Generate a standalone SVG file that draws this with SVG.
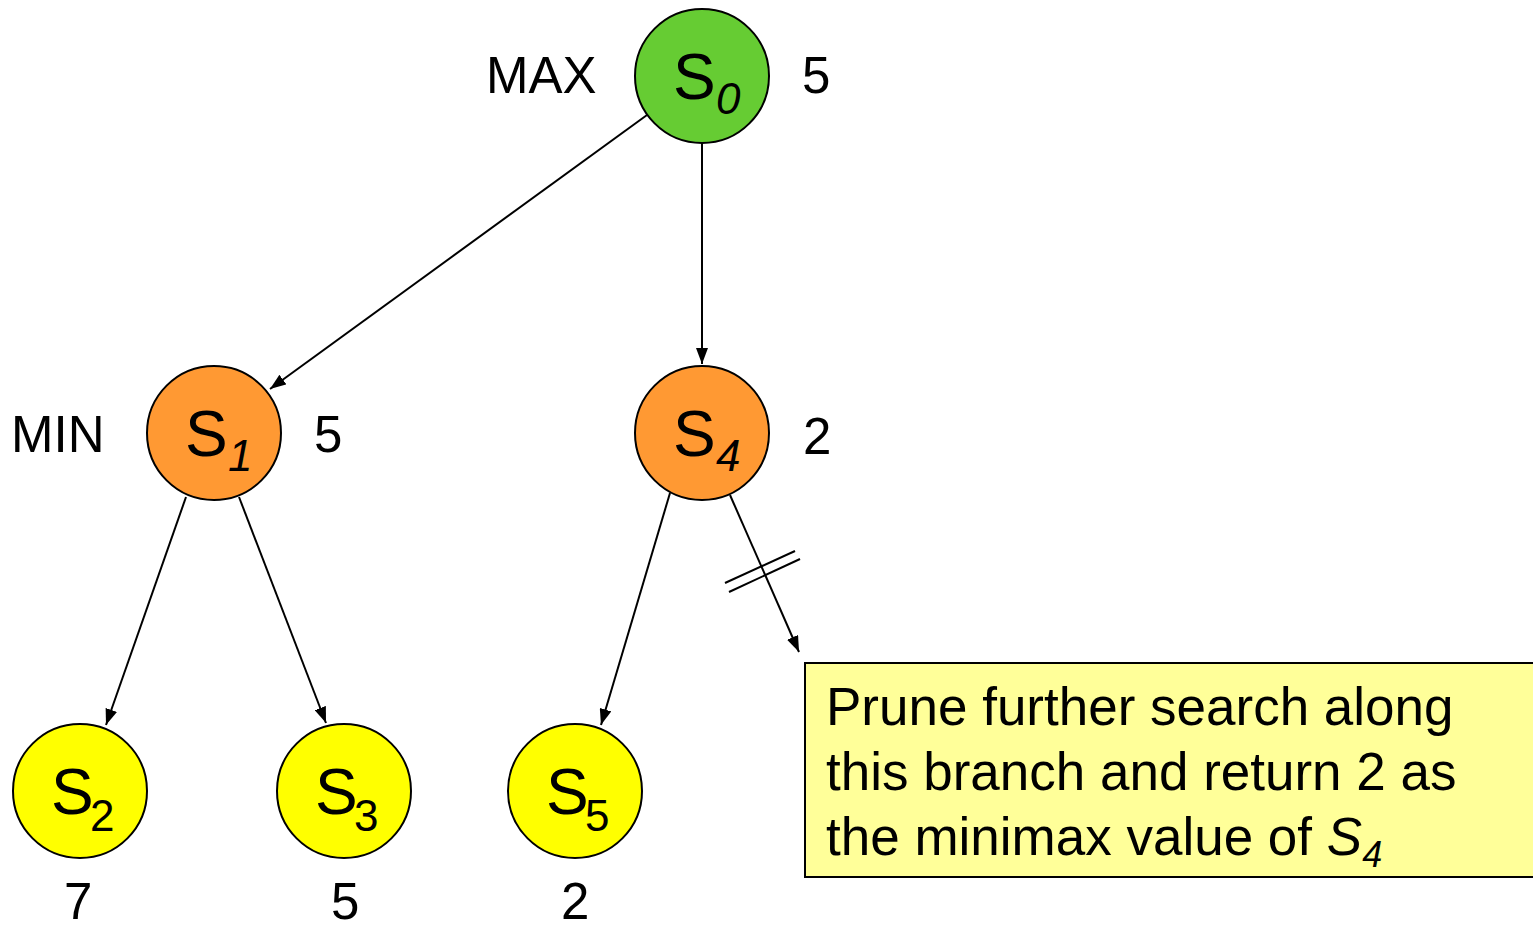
<svg xmlns="http://www.w3.org/2000/svg" width="1533" height="926" viewBox="0 0 1533 926">
<style>
.t{font-family:"Liberation Sans",Arial,sans-serif;fill:#000}
.lbl{font-size:51px}
.s{font-size:64px}
.sub{font-size:44px;font-style:italic}
.sub2{font-size:44px}
.nd{stroke:#000;stroke-width:2}
.e{stroke:#000;stroke-width:2;fill:none;marker-end:url(#ah)}
.box{font-size:53px}
</style>
<defs>
<marker id="ah" viewBox="0 0 16 12" refX="16" refY="6" markerWidth="16" markerHeight="12" markerUnits="userSpaceOnUse" orient="auto">
<path d="M0,0 L16,6 L0,12 z" fill="#000"/>
</marker>
</defs>
<g id="connectors">
<line class="e" x1="647" y1="115" x2="270" y2="389"/>
<line class="e" x1="702" y1="143" x2="702" y2="364"/>
<line class="e" x1="186" y1="497" x2="106" y2="725"/>
<line class="e" x1="239" y1="497" x2="326" y2="723"/>
<line class="e" x1="670" y1="493" x2="601" y2="725"/>
<line class="e" x1="730" y1="495" x2="799" y2="652"/>
<line x1="725" y1="583" x2="795" y2="551" stroke="#000" stroke-width="2"/>
<line x1="729" y1="592" x2="800" y2="559" stroke="#000" stroke-width="2"/>
</g>
<g id="S0">
<circle class="nd" cx="702" cy="76" r="67" fill="#66CC33"/>
<text class="t s" x="673" y="99">S</text><text class="t sub" x="716" y="114">0</text>
<text class="t lbl" x="486" y="93">MAX</text>
<text class="t lbl" x="802" y="93">5</text>
</g>
<g id="S1">
<circle class="nd" cx="214" cy="433" r="67" fill="#FF9933"/>
<text class="t s" x="185" y="456">S</text><text class="t sub" x="228" y="471">1</text>
<text class="t lbl" x="11" y="452">MIN</text>
<text class="t lbl" x="314" y="452">5</text>
</g>
<g id="S4">
<circle class="nd" cx="702" cy="433" r="67" fill="#FF9933"/>
<text class="t s" x="673" y="456">S</text><text class="t sub" x="716" y="471">4</text>
<text class="t lbl" x="803" y="454">2</text>
</g>
<g id="S2">
<circle class="nd" cx="80" cy="791" r="67" fill="#FFFF00"/>
<text class="t s" x="51" y="814">S</text><text class="t sub2" x="90" y="831">2</text>
<text class="t lbl" x="64" y="919">7</text>
</g>
<g id="S3">
<circle class="nd" cx="344" cy="791" r="67" fill="#FFFF00"/>
<text class="t s" x="315" y="814">S</text><text class="t sub2" x="354" y="831">3</text>
<text class="t lbl" x="331" y="919">5</text>
</g>
<g id="S5">
<circle class="nd" cx="575" cy="791" r="67" fill="#FFFF00"/>
<text class="t s" x="546" y="814">S</text><text class="t sub2" x="585" y="831">5</text>
<text class="t lbl" x="561" y="919">2</text>
</g>
<g id="note">
<rect x="805" y="663" width="730" height="214" fill="#FFFF99" stroke="#000" stroke-width="2"/>
<text class="t box" x="826" y="725">Prune further search along</text>
<text class="t box" x="826" y="790">this branch and return 2 as</text>
<text class="t box" x="826" y="855">the minimax value of <tspan font-style="italic">S</tspan><tspan font-style="italic" font-size="36px" dy="12">4</tspan></text>
</g>
</svg>
